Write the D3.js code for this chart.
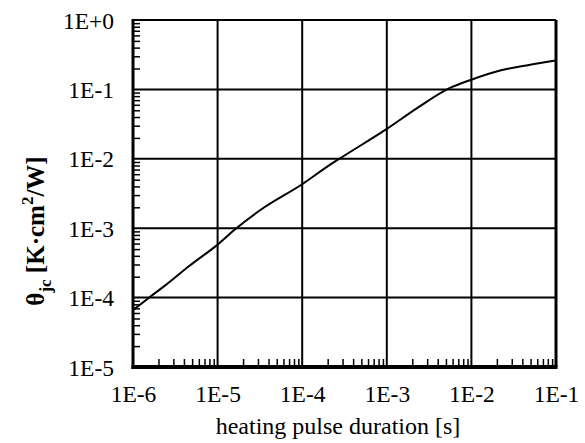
<!DOCTYPE html>
<html>
<head>
<meta charset="utf-8">
<script src="https://cdn.jsdelivr.net/npm/d3@7"></script>
<style>
    body { margin: 0; background: #fff; }
    text { font-family: "Liberation Serif", "Times New Roman", serif; fill: #000; }
</style>
</head>
<body>
<div id="stage"></div>
<script>
(function(d3) {
    'use strict';

    // heating pulse duration [s]
    var pulseDuration = [1e-6, 1.6e-6, 2.3e-6, 4.7e-6, 1e-5, 1.6e-5, 3.5e-5, 1e-4,
        2.1e-4, 3e-4, 1e-3, 2.4e-3, 5.5e-3, 1e-2, 2.3e-2, 4.8e-2, 1e-1];
    // theta jc [K.cm2/W]
    var thermalImpedance = [6.6e-5, 1.03e-4, 1.44e-4, 2.9e-4, 5.8e-4, 9.6e-4, 1.97e-3, 4.3e-3,
        8.1e-3, 1.07e-2, 2.7e-2, 5.6e-2, 0.104, 0.138, 0.19, 0.225, 0.26];

    var xTicks = [1e-6, 1e-5, 1e-4, 1e-3, 1e-2, 1e-1];
    var xTickLabels = ['1E-6', '1E-5', '1E-4', '1E-3', '1E-2', '1E-1'];
    var yTicks = [1e-5, 1e-4, 1e-3, 1e-2, 1e-1, 1];
    var yTickLabels = ['1E-5', '1E-4', '1E-3', '1E-2', '1E-1', '1E+0'];

    var width = 585,
        height = 443,
        left = 133,
        right = 556,
        top = 20,
        bottom = 367;

    var svg = d3.select('#stage')
        .append('svg')
        .attr('width', width)
        .attr('height', height);

    var x = d3.scaleLog().domain([1e-6, 1e-1]).range([left, right]);
    var y = d3.scaleLog().domain([1e-5, 1]).range([bottom, top]);

    function minors(ticks) {
        var out = [];
        ticks.slice(0, -1).forEach(function(t) {
            for (var k = 2; k <= 9; k++) { out.push(t * k); }
        });
        return out;
    }

    // grid
    svg.append('g')
        .selectAll('line')
        .data(xTicks.slice(1, -1))
        .enter()
        .append('line')
        .attr('x1', function(d) { return x(d); })
        .attr('x2', function(d) { return x(d); })
        .attr('y1', top)
        .attr('y2', bottom)
        .style('stroke', '#000')
        .style('stroke-width', 2);

    svg.append('g')
        .selectAll('line')
        .data(yTicks.slice(1, -1))
        .enter()
        .append('line')
        .attr('y1', function(d) { return y(d); })
        .attr('y2', function(d) { return y(d); })
        .attr('x1', left)
        .attr('x2', right)
        .style('stroke', '#000')
        .style('stroke-width', 2);

    // minor ticks, inside
    var xMinor = svg.append('g')
        .attr('transform', 'translate(0,' + bottom + ')')
        .call(d3.axisBottom(x).tickValues(minors(xTicks)).tickSize(-8).tickFormat(''));
    var yMinor = svg.append('g')
        .attr('transform', 'translate(' + left + ',0)')
        .call(d3.axisLeft(y).tickValues(minors(yTicks)).tickSize(-7).tickFormat(''));
    [xMinor, yMinor].forEach(function(g) {
        g.select('.domain').remove();
        g.selectAll('line').style('stroke', '#000').style('stroke-width', 1.5);
    });

    // frame
    var frame = [
        [left, top, right, top, 2],
        [right, top, right, bottom, 3],
        [left, top - 1, left, bottom + 2, 3],
        [left - 1.5, bottom, right + 1.5, bottom, 4]
    ];
    svg.append('g')
        .selectAll('line')
        .data(frame)
        .enter()
        .append('line')
        .attr('x1', function(d) { return d[0]; })
        .attr('y1', function(d) { return d[1]; })
        .attr('x2', function(d) { return d[2]; })
        .attr('y2', function(d) { return d[3]; })
        .style('stroke', '#000')
        .style('stroke-width', function(d) { return d[4]; });

    // curve
    var line = d3.line()
        .curve(d3.curveMonotoneX)
        .x(function(d) { return x(d[0]); })
        .y(function(d) { return y(d[1]); });

    svg.append('path')
        .datum(d3.zip(pulseDuration, thermalImpedance))
        .attr('d', line)
        .style('fill', 'none')
        .style('stroke', '#000')
        .style('stroke-width', 2);

    // tick labels
    var xAxis = svg.append('g')
        .attr('transform', 'translate(0,' + bottom + ')')
        .call(d3.axisBottom(x).tickValues(xTicks).tickSize(0).tickPadding(0)
            .tickFormat(function(d, i) { return xTickLabels[i]; }));
    xAxis.select('.domain').remove();
    xAxis.selectAll('text')
        .attr('y', 35)
        .attr('dy', 0)
        .style('font-size', '23.5px')
        .style('font-family', '"Liberation Serif", "Times New Roman", serif')
        .style('fill', '#000');

    var yAxis = svg.append('g')
        .attr('transform', 'translate(' + left + ',0)')
        .call(d3.axisLeft(y).tickValues(yTicks).tickSize(0).tickPadding(0)
            .tickFormat(function(d, i) { return yTickLabels[i]; }));
    yAxis.select('.domain').remove();
    yAxis.selectAll('text')
        .attr('x', -19)
        .attr('dy', '0.34em')
        .style('font-size', '23.5px')
        .style('font-family', '"Liberation Serif", "Times New Roman", serif')
        .style('fill', '#000');

    // axis titles
    svg.append('text')
        .attr('x', 338)
        .attr('y', 434)
        .attr('text-anchor', 'middle')
        .style('font-size', '24px')
        .text('heating pulse duration [s]');

    var yTitle = svg.append('text')
        .attr('transform', 'translate(44,231) rotate(-90)')
        .attr('text-anchor', 'middle')
        .style('font-size', '25px')
        .style('font-weight', 'bold');
    yTitle.append('tspan').text('\u03b8');
    yTitle.append('tspan').attr('dy', 7).style('font-size', '17px').text('jc');
    yTitle.append('tspan').attr('dy', -7).text(' [K\u00b7cm');
    yTitle.append('tspan').attr('dy', -11).style('font-size', '17px').text('2');
    yTitle.append('tspan').attr('dy', 11).text('/W]');

})(window.d3);
</script>
</body>
</html>
